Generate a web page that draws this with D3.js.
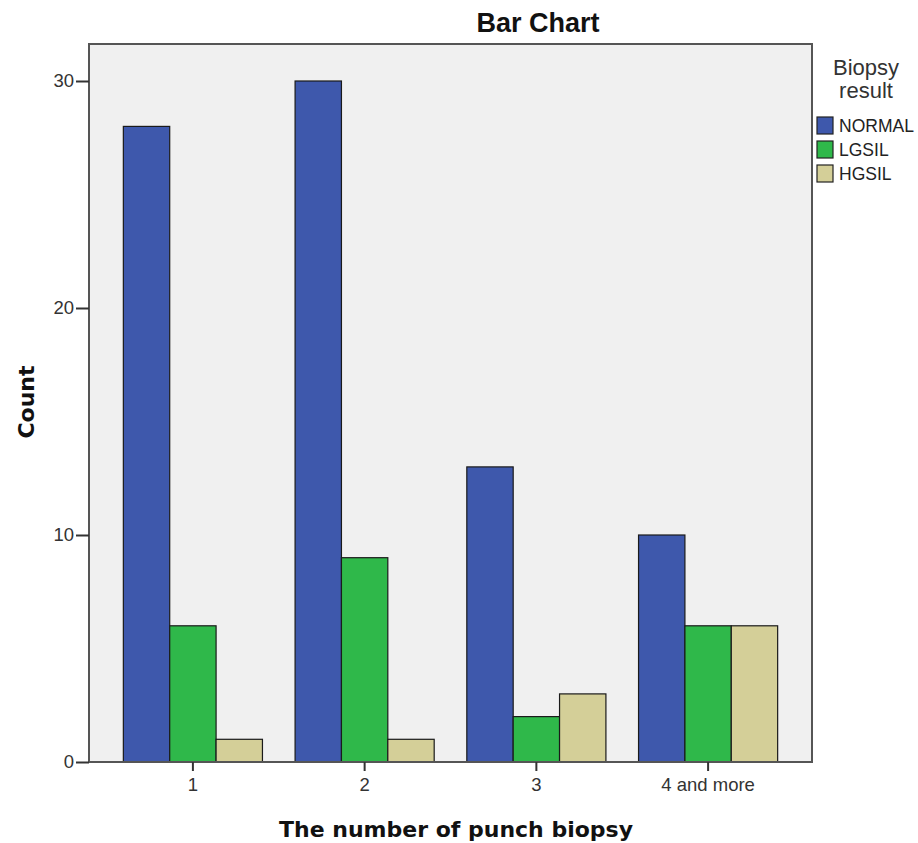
<!DOCTYPE html>
<html>
<head>
<meta charset="utf-8">
<script src="https://cdn.jsdelivr.net/npm/d3@7"></script>
<style>
  body { margin: 0; background: #fff; }
  text { font-family: "Liberation Sans", Arial, sans-serif; }
</style>
</head>
<body>
<div id="chart"></div>
<script>
// data
const categories = ["1", "2", "3", "4 and more"];
const seriesNames = ["NORMAL", "LGSIL", "HGSIL"];
const normalCounts = [28, 30, 13, 10];
const lgsilCounts = [6, 9, 2, 6];
const hgsilCounts = [1, 1, 3, 6];
const yTicks = [0, 10, 20, 30];

const colors = ["#3e58ac", "#2fb84a", "#d4cf98"];
const seriesValues = [normalCounts, lgsilCounts, hgsilCounts];

const rows = categories.map((c, i) => ({
  cat: c,
  values: seriesNames.map((s, j) => ({ key: s, value: seriesValues[j][i] }))
}));

const width = 918, height = 843;
const plotLeft = 89, plotRight = 812, plotTop = 44, plotBottom = 762;

const svg = d3.select("#chart")
              .append("svg")
              .attr("width", width)
              .attr("height", height);

const x = d3.scaleBand()
            .domain(categories)
            .range([plotLeft, plotRight])
            .paddingInner(0.19)
            .paddingOuter(0.2);

const xInner = d3.scaleBand()
                 .domain(seriesNames)
                 .range([0, x.bandwidth()]);

const y = d3.scaleLinear()
            .domain([0, 31.63])
            .range([plotBottom, plotTop]);

// plot background
svg.append("rect")
   .attr("x", plotLeft)
   .attr("y", plotTop)
   .attr("width", plotRight - plotLeft)
   .attr("height", plotBottom - plotTop)
   .attr("fill", "#f0f0f0");

// bars
svg.append("g")
   .selectAll("g")
   .data(rows)
   .enter()
   .append("g")
   .attr("transform", d => `translate(${x(d.cat)},0)`)
   .selectAll("rect")
   .data(d => d.values)
   .enter()
   .append("rect")
   .attr("x", d => xInner(d.key))
   .attr("y", d => y(d.value))
   .attr("width", xInner.bandwidth())
   .attr("height", d => y(0) - y(d.value))
   .attr("fill", (d, i) => colors[i])
   .attr("stroke", "#1a1a1a")
   .attr("stroke-width", 1.2);

// frame
svg.append("rect")
   .attr("x", plotLeft)
   .attr("y", plotTop)
   .attr("width", plotRight - plotLeft)
   .attr("height", plotBottom - plotTop)
   .attr("fill", "none")
   .attr("stroke", "#555")
   .attr("stroke-width", 2);

// axes
const yAxis = svg.append("g")
   .attr("transform", `translate(${plotLeft},0)`)
   .call(d3.axisLeft(y).tickValues(yTicks).tickSize(13).tickPadding(2));

const xAxis = svg.append("g")
   .attr("transform", `translate(0,${plotBottom})`)
   .call(d3.axisBottom(x).tickSize(9).tickPadding(7));

[yAxis, xAxis].forEach(a => {
  a.select(".domain").remove();
  a.selectAll("line").attr("stroke", "#333").attr("stroke-width", 2);
  a.selectAll("text")
   .attr("fill", "#333")
   .style("font-family", "'Liberation Sans', Arial, sans-serif")
   .style("font-size", "18.5px");
});

// title
svg.append("text")
   .attr("x", 538)
   .attr("y", 32)
   .attr("text-anchor", "middle")
   .style("font-size", "27px")
   .style("font-weight", "bold")
   .attr("fill", "#111")
   .text("Bar Chart");

// axis titles
svg.append("text")
   .attr("transform", "translate(34,402) rotate(-90)")
   .attr("text-anchor", "middle")
   .style("font-family", "'DejaVu Sans', Verdana, sans-serif")
   .style("font-size", "22px")
   .style("font-weight", "bold")
   .attr("fill", "#111")
   .text("Count");

svg.append("text")
   .attr("x", 456)
   .attr("y", 837)
   .attr("text-anchor", "middle")
   .style("font-family", "'DejaVu Sans', Verdana, sans-serif")
   .style("font-size", "22px")
   .style("font-weight", "bold")
   .attr("fill", "#111")
   .text("The number of punch biopsy");

// legend
svg.append("text")
   .attr("x", 866)
   .attr("y", 75)
   .attr("text-anchor", "middle")
   .style("font-size", "22px")
   .attr("fill", "#333")
   .text("Biopsy");

svg.append("text")
   .attr("x", 866)
   .attr("y", 98)
   .attr("text-anchor", "middle")
   .style("font-size", "22px")
   .attr("fill", "#333")
   .text("result");

const legend = svg.append("g")
   .selectAll("g")
   .data(seriesNames)
   .enter()
   .append("g")
   .attr("transform", (d, i) => `translate(817,${117 + i * 24})`);

legend.append("rect")
   .attr("width", 16)
   .attr("height", 17)
   .attr("fill", (d, i) => colors[i])
   .attr("stroke", "#222")
   .attr("stroke-width", 1.2);

legend.append("text")
   .attr("x", 22)
   .attr("y", 15)
   .style("font-size", "17.5px")
   .attr("fill", "#222")
   .text(d => d);
</script>
</body>
</html>
